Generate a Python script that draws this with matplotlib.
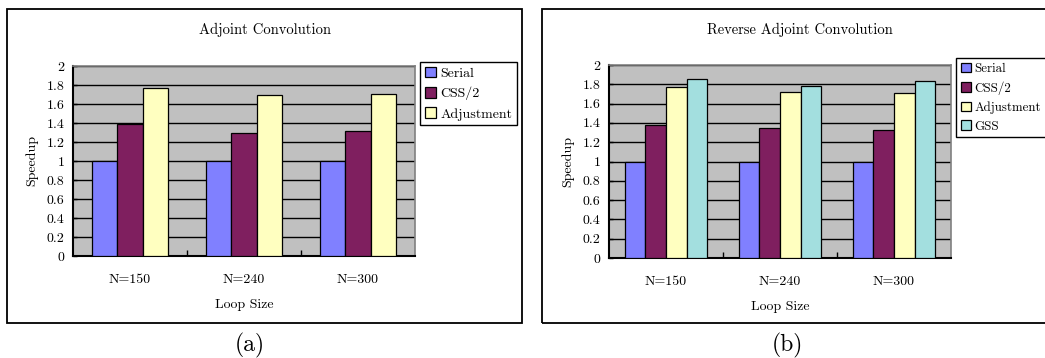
import matplotlib
matplotlib.use('Agg')
import matplotlib.pyplot as plt
import numpy as np
from matplotlib.patches import Rectangle

loop_sizes = ['N=150', 'N=240', 'N=300']

# (a) Adjoint Convolution
serial_a = [1.0, 1.0, 1.0]
css_a = [1.39, 1.30, 1.32]
adj_a = [1.77, 1.69, 1.71]

# (b) Reverse Adjoint Convolution
serial_b = [1.0, 1.0, 1.0]
css_b = [1.38, 1.35, 1.33]
adj_b = [1.77, 1.72, 1.71]
gss_b = [1.86, 1.78, 1.83]

labels_a = ['Serial', 'CSS/2', 'Adjustment']
labels_b = ['Serial', 'CSS/2', 'Adjustment', 'GSS']
colors = ['#8080ff', '#7f1f5f', '#ffffc0', '#a3dfdf']

plt.rcParams['font.family'] = ['cmr10', 'DejaVu Serif']
plt.rcParams['axes.unicode_minus'] = False

W, H = 1045, 358
fig = plt.figure(figsize=(W / 100, H / 100), dpi=100)


def px_box(x0, y0, x1, y1):
    return [x0 / W, 1 - y1 / H, (x1 - x0) / W, (y1 - y0) / H]


def draw_panel(box, series, labels, bar_w, title, title_x, leg_xy, leg_fs, frame, tag, tag_x):
    # outer frame of the pasted chart
    fx0, fy0, fx1, fy1 = frame
    fig.add_artist(Rectangle((fx0 / W, 1 - fy1 / H), (fx1 - fx0) / W, (fy1 - fy0) / H,
                             transform=fig.transFigure, fill=False, ec='black', lw=1.3))
    ax = fig.add_axes(px_box(*box))
    ax.set_facecolor('#c0c0c0')
    x = np.arange(len(loop_sizes))
    n = len(series)
    for i, (vals, lab) in enumerate(zip(series, labels)):
        off = (i - (n - 1) / 2) * bar_w
        ax.bar(x + off, vals, bar_w, color=colors[i], edgecolor='black', lw=0.9,
               label=lab, zorder=3)
    ax.set_xlim(-0.5, len(loop_sizes) - 0.5)
    ax.set_ylim(0, 2)
    ax.set_yticks(np.arange(0, 2.01, 0.2))
    ax.set_yticklabels(['0', '0.2', '0.4', '0.6', '0.8', '1', '1.2', '1.4', '1.6', '1.8', '2'])
    ax.yaxis.grid(True, color='black', lw=1.0, zorder=1)
    ax.set_axisbelow(True)
    ax.set_xticks(x)
    ax.set_xticklabels(loop_sizes)
    ax.set_xticks([0.5, 1.5], minor=True)
    ax.tick_params(axis='x', which='major', length=0, pad=13, labelsize=10)
    ax.tick_params(axis='x', which='minor', length=4, direction='in', width=1)
    ax.tick_params(axis='y', length=3, direction='in', width=1, pad=6, labelsize=10)
    for s in ['top', 'right']:
        ax.spines[s].set_color('#808080')
        ax.spines[s].set_linewidth(1.2)
    for s in ['left', 'bottom']:
        ax.spines[s].set_color('black')
        ax.spines[s].set_linewidth(1.5)
    ax.set_xlabel('Loop Size', fontsize=10, labelpad=9)
    ax.set_ylabel('Speedup', fontsize=10, labelpad=6)
    fig.text(title_x / W, 1 - 30 / H, title, ha='center', va='center', fontsize=10.5)
    fig.text(tag_x / W, 1 - 345 / H, tag, ha='center', va='center', fontsize=17)
    ax.legend(loc='upper left', bbox_to_anchor=(leg_xy[0] / W, 1 - leg_xy[1] / H),
              bbox_transform=fig.transFigure, borderaxespad=0, fancybox=False,
              edgecolor='black', framealpha=1, fontsize=leg_fs, handlelength=0.8,
              handleheight=0.8, handletextpad=0.3, labelspacing=0.5,
              borderpad=0.35).get_frame().set_linewidth(1.0)
    return ax


draw_panel((73, 66, 415, 256), [serial_a, css_a, adj_a], labels_a, 0.22,
           'Adjoint Convolution', 265, (420, 62), 10, (7, 9, 522, 323), '(a)', 250)
draw_panel((609, 65, 951, 258), [serial_b, css_b, adj_b, gss_b], labels_b, 0.182,
           'Reverse Adjoint Convolution', 800, (956, 58), 9.3, (542, 9, 1060, 323), '(b)', 787)

fig.savefig('out.png', dpi=100)
